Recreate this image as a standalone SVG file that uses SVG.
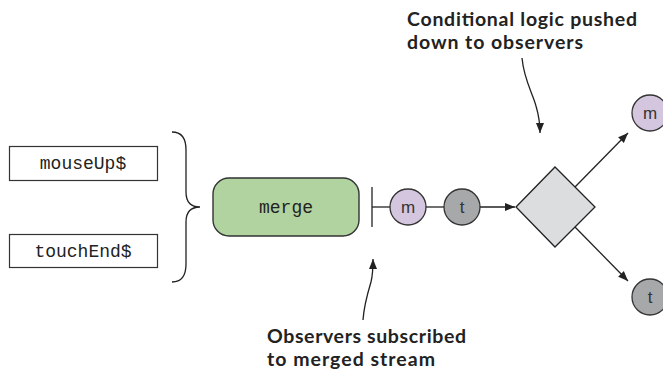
<svg xmlns="http://www.w3.org/2000/svg" width="663" height="374" viewBox="0 0 663 374">
<style>
.box{fill:#fff;stroke:#333;stroke-width:1.2}
.mono{font-family:"Liberation Mono","Courier New",monospace;font-size:18px;fill:#222;text-anchor:middle}
.lbl{font-family:"Liberation Sans",Arial,sans-serif;font-size:17px;fill:#333;text-anchor:middle}
.note{font-family:Lato,"Open Sans",sans-serif;font-weight:bold;font-size:19.5px;fill:#222}
.ln{fill:none;stroke:#222;stroke-width:1.3}
.circ{stroke:#333;stroke-width:1.3}
</style>
<defs>
<marker id="ah" viewBox="0 0 10 10" refX="10" refY="5" markerWidth="10" markerHeight="10" markerUnits="userSpaceOnUse" orient="auto">
<path d="M0,1 L10,5 L0,9 Z" fill="#222"/>
</marker>
</defs>
<rect width="663" height="374" fill="#fff"/>
<g id="mouseUp">
<rect class="box" x="9.5" y="146.5" width="148" height="34"/>
<text class="mono" x="83" y="168.5">mouseUp$</text>
</g>
<g id="touchEnd">
<rect class="box" x="9.5" y="234.5" width="148" height="33"/>
<text class="mono" x="83" y="256.5">touchEnd$</text>
</g>
<g id="brace">
<path class="ln" d="M172,132 C182,132 186,138 186,150 L186,192 C186,202 190,207 200,207 C190,207 186,212 186,222 L186,264 C186,276 182,282 172,282"/>
</g>
<g id="merge">
<rect x="213" y="178" width="146" height="58" rx="16" ry="16" fill="#b0d3a0" stroke="#333" stroke-width="1.4"/>
<text class="mono" x="286" y="212.5">merge</text>
</g>
<g id="connectors">
<line class="ln" x1="372" y1="187" x2="372" y2="227"/>
<line class="ln" x1="372" y1="207" x2="390" y2="207"/>
<line class="ln" x1="426" y1="207" x2="444" y2="207"/>
<line class="ln" x1="480" y1="207" x2="515" y2="207" marker-end="url(#ah)"/>
<line class="ln" x1="575" y1="187" x2="628" y2="133" marker-end="url(#ah)"/>
<line class="ln" x1="575" y1="227" x2="628" y2="281" marker-end="url(#ah)"/>
<path class="ln" d="M522,58 C524,80 533,94 536,106 C539,116 540,122 540,133" marker-end="url(#ah)"/>
<path class="ln" d="M363,320 C364,305 368,292 371,282 C373,274 373,268 373,259" marker-end="url(#ah)"/>
</g>
<g id="m1">
<circle class="circ" cx="408" cy="207" r="18" fill="#d5c6df"/>
<text class="lbl" x="408" y="213">m</text>
</g>
<g id="t1">
<circle class="circ" cx="462" cy="207" r="18" fill="#a7a8aa"/>
<text class="lbl" x="462" y="213">t</text>
</g>
<g id="filter">
<polygon points="516,207 555,167 595,207 555,247" fill="#dcdddf" stroke="#222" stroke-width="1.3"/>
</g>
<g id="m2">
<circle class="circ" cx="650" cy="113" r="18" fill="#d5c6df"/>
<text class="lbl" x="650" y="119">m</text>
</g>
<g id="t2">
<circle class="circ" cx="650" cy="297" r="18" fill="#a7a8aa"/>
<text class="lbl" x="650" y="303">t</text>
</g>
<g id="note-top">
<text class="note" x="407" y="26" textLength="230" lengthAdjust="spacing">Conditional logic pushed</text>
<text class="note" x="407" y="49" textLength="176" lengthAdjust="spacing">down to observers</text>
</g>
<g id="note-bottom">
<text class="note" x="267" y="343" textLength="199" lengthAdjust="spacing">Observers subscribed</text>
<text class="note" x="267" y="366" textLength="168" lengthAdjust="spacing">to merged stream</text>
</g>
</svg>
